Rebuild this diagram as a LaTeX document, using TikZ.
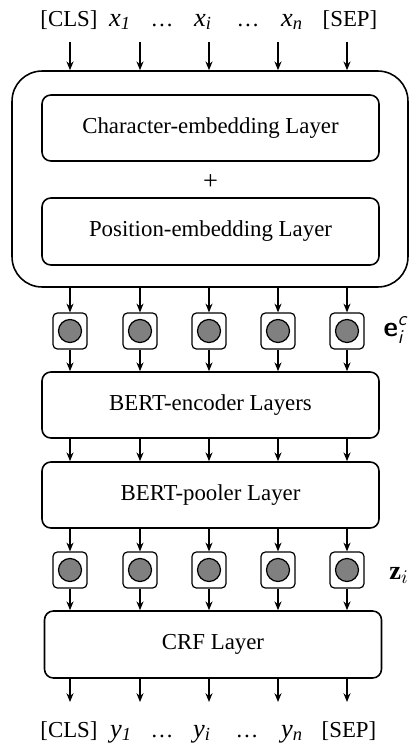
\documentclass[tikz,border=0pt]{standalone}
\usepackage{amsmath}
\usepackage{fontspec}
\setmainfont{Liberation Serif}
\usetikzlibrary{arrows.meta, positioning}

\begin{document}
\begin{tikzpicture}[
        x=0.02cm, y=-0.02cm,
        font=\fontsize{13}{15}\selectfont,
        layer/.style={draw, line width=0.9pt, rounded corners=5pt, minimum width=6.74cm, minimum height=1.32cm, align=center},
        cell/.style={draw, line width=0.7pt, rounded corners=2.5pt, minimum width=0.68cm, minimum height=0.72cm, inner sep=0pt},
        dot/.style={circle, draw, fill=gray, line width=0.7pt, minimum size=0.46cm, inner sep=0pt},
        tok/.style={anchor=base, inner sep=0pt, font=\fontsize{13}{15}\selectfont},
        flow/.style={-{Stealth[length=5pt, width=4pt]}, line width=0.8pt}
    ]
    \useasboundingbox (0,0) rectangle (415,754);

    % input tokens
    \node[tok] (inCLS) at (69,26) {[CLS]};
    \node[tok] (inX1) at (120,26) {\fontsize{15}{15}\selectfont\textit{x}\textsubscript{\textit{1}}};
    \node[tok] (inDots1) at (162,26) {…};
    \node[tok] (inXi) at (203,26) {\fontsize{15}{15}\selectfont\textit{x}\textsubscript{\textit{i}}};
    \node[tok] (inDots2) at (248,26) {…};
    \node[tok] (inXn) at (292,26) {\fontsize{15}{15}\selectfont\textit{x}\textsubscript{\textit{n}}};
    \node[tok] (inSEP) at (350,26) {[SEP]};

    % embedding block
    \node[draw, line width=0.9pt, rounded corners=0.6cm, minimum width=7.92cm, minimum height=4.32cm] (embed) at (210,179) {};
    \node[layer] (charEmb) at (210.5,128) {Character-embedding Layer};
    \node[inner sep=0pt] (plus) at (210.5,182) {\fontsize{15}{15}\selectfont +};
    \node[layer, minimum height=1.34cm] (posEmb) at (210.5,231.5) {Position-embedding Layer};

    % BERT
    \node[layer] (encoder) at (210.5,405) {BERT-encoder Layers};
    \node[layer] (pooler) at (210.5,495) {BERT-pooler Layer};

    % CRF
    \node[layer, minimum height=1.34cm] (crf) at (213,644.5) {CRF Layer};

    % vectors and arrows, column by column
    \foreach \x [count=\i] in {70,140,209,278,347} {
        \coordinate (in\i) at (\x,42);
        \coordinate (out\i) at (\x,702);
        \node[cell] (e\i) at (\x,331) {};
        \node[dot] (eDot\i) at (e\i) {};
        \node[cell] (z\i) at (\x,570) {};
        \node[dot] (zDot\i) at (z\i) {};

        \draw[flow] (in\i) -- (in\i |- embed.north);
        \draw[flow] (e\i |- embed.south) -- (e\i);
        \draw[flow] (e\i) -- (e\i |- encoder.north);
        \draw[flow] (e\i |- encoder.south) -- (e\i |- pooler.north);
        \draw[flow] (z\i |- pooler.south) -- (z\i);
        \draw[flow] (z\i) -- (z\i |- crf.north);
        \draw[flow] (z\i |- crf.south) -- (out\i);
    }

    % vector names
    \node[inner sep=0pt] (eName) at (396,330) {\fontsize{16}{16}\selectfont$\textsf{\textbf{e}}^{\textsf{\textit{c}}}_{\textsf{\textit{i}}}$};
    \node[inner sep=0pt] (zName) at (399,575) {\fontsize{15}{15}\selectfont$\mathbf{z}_i$};

    % output tags
    \node[tok] (outCLS) at (69,737) {[CLS]};
    \node[tok] (outY1) at (121,737) {\fontsize{15}{15}\selectfont\textit{y}\textsubscript{\textit{1}}};
    \node[tok] (outDots1) at (162,737) {…};
    \node[tok] (outYi) at (202,737) {\fontsize{15}{15}\selectfont\textit{y}\textsubscript{\textit{i}}};
    \node[tok] (outDots2) at (247,737) {…};
    \node[tok] (outYn) at (292,737) {\fontsize{15}{15}\selectfont\textit{y}\textsubscript{\textit{n}}};
    \node[tok] (outSEP) at (349,737) {[SEP]};
\end{tikzpicture}
\end{document}
